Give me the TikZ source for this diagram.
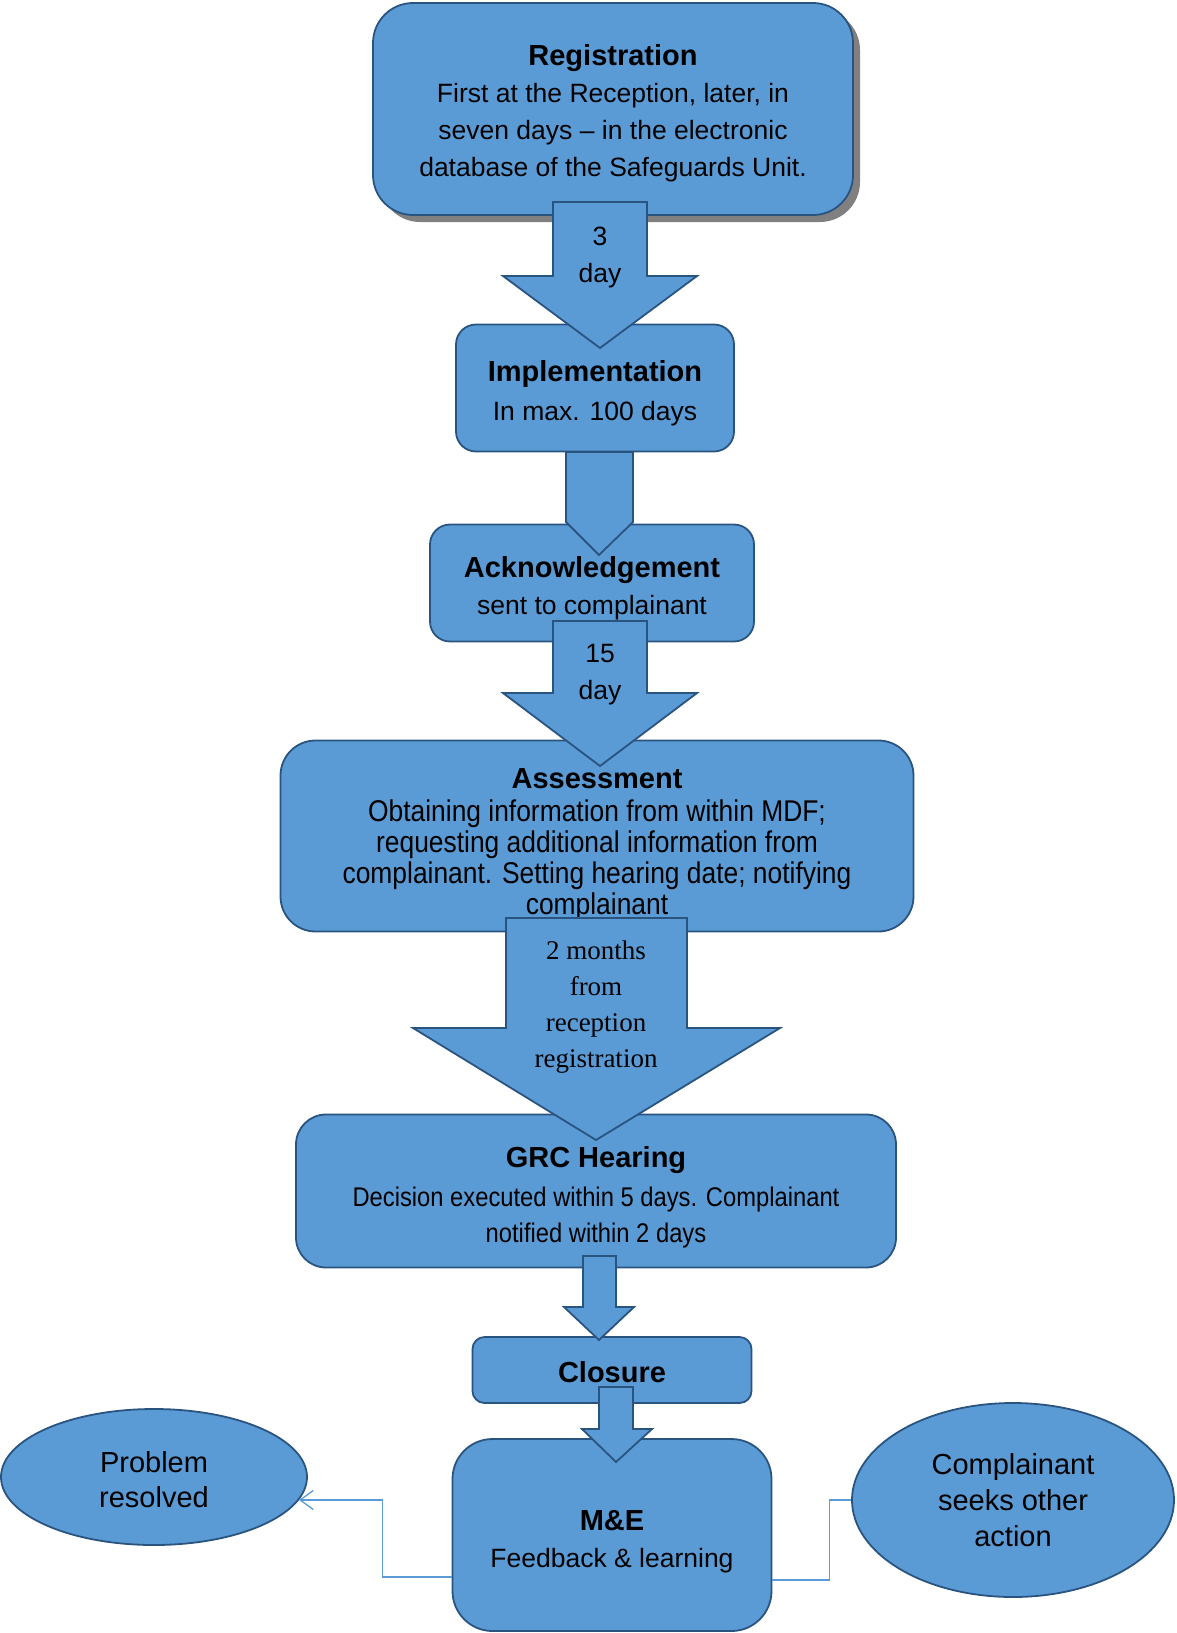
\documentclass[tikz,border=0pt]{standalone}
\usepackage{fontspec}
\setsansfont{Liberation Sans}
\newfontfamily\condsans[FakeStretch=0.88]{Liberation Sans}
\newfontfamily\arrowserif{Liberation Serif}
\usepackage{tikz}
\usetikzlibrary{arrows.meta, shapes.geometric, shadows}
\definecolor{boxblue}{RGB}{91,155,213}
\definecolor{boxline}{RGB}{42,84,128}

\begin{document}
\begin{tikzpicture}[x=1pt, y=-1pt,
		every node/.style={align=center, inner sep=0pt, font=\sffamily\fontsize{26.5}{37}\selectfont},
		stage/.style={draw=boxline, fill=boxblue, line width=1.8pt, rounded corners=#1},
		stage/.default=20pt,
		outcome/.style={draw=boxline, fill=boxblue, line width=1.8pt, ellipse},
		blockarrow/.style={draw=boxline, fill=boxblue, line width=1.8pt},
		link/.style={draw=boxblue, line width=1.3pt},
		title/.style={font=\sffamily\bfseries\fontsize{29}{37}\selectfont}
	]

	\useasboundingbox (0,0) rectangle (1176,1633);

	% Stages of the procedure
	\node[stage=40pt, minimum width=480pt, minimum height=212pt,
		drop shadow={shadow xshift=7pt, shadow yshift=-7pt, fill=black!50, opacity=1}] (reg) at (613,109) {};
	\node (regtxt) at ([yshift=-4pt]reg.center)
		{{\bfseries\fontsize{29}{37}\selectfont Registration}\\First at the Reception, later, in\\seven days – in the electronic\\database of the Safeguards Unit.};
	\node[stage, minimum width=278pt, minimum height=127pt] (impl) at (595,388) {};
	\node (impltxt) at ([yshift=-5pt]impl.center)
		{{\bfseries\fontsize{29}{39}\selectfont Implementation}\\[2pt]In max. 100 days};
	\node[stage, minimum width=324pt, minimum height=117pt] (ack) at (592,583) {};
	\node (acktxt) at ([yshift=-5pt]ack.center)
		{{\bfseries\fontsize{29}{37}\selectfont Acknowledgement}\\sent to complainant};
	\node[stage=35pt, minimum width=633pt, minimum height=191pt] (assess) at (597,836) {};
	\node[font=\condsans\fontsize{30}{31}\selectfont] (assesstxt) at ([yshift=-9pt]assess.center)
		{{\sffamily\bfseries\fontsize{29}{31}\selectfont Assessment}\\[2pt]Obtaining information from within MDF;\\requesting additional information from\\complainant. Setting hearing date; notifying\\complainant};
	\node[stage=30pt, minimum width=600pt, minimum height=153pt] (grc) at (596,1191) {};
	\node[font=\condsans\fontsize{27}{36}\selectfont] (grctxt) at ([yshift=-6pt]grc.center)
		{{\sffamily\bfseries\fontsize{29}{36}\selectfont GRC Hearing}\\[3pt]Decision executed within 5 days. Complainant\\notified within 2 days};
	\node[stage=12pt, minimum width=279pt, minimum height=66pt] (close) at (612,1370) {};
	\node[title] (closetxt) at ([yshift=-2pt]close.center) {Closure};
	\node[stage=40pt, minimum width=319pt, minimum height=192pt] (me) at (612,1535) {};
	\node (metxt) at ([yshift=-7pt]me.center)
		{{\bfseries\fontsize{29}{37}\selectfont M\&E}\\Feedback \& learning};

	% Outcomes
	\node[outcome, minimum width=306pt, minimum height=136pt] (resolved) at (154,1477) {};
	\node[font=\sffamily\fontsize{29}{35}\selectfont] (resolvedtxt) at ([yshift=-3pt]resolved.center) {Problem\\resolved};
	\node[outcome, minimum width=322pt, minimum height=194pt, font=\sffamily\fontsize{29}{36}\selectfont] (action) at (1013,1500)
		{Complainant\\seeks other\\action};

	% Block arrows with the time limits
	\draw[blockarrow] (553,202) -- (647,202) -- (647,276) -- (697,276) -- (600,348) -- (503,276) -- (553,276) -- cycle;
	\node (d3) at (600,257) {3\\day};
	\draw[blockarrow] (566,452) -- (633,452) -- (633,522) -- (599,555) -- (566,522) -- cycle;
	\draw[blockarrow] (553,621) -- (647,621) -- (647,693) -- (697,693) -- (600,766) -- (503,693) -- (553,693) -- cycle;
	\node (d15) at (600,675) {15\\day};
	\draw[blockarrow] (506,918) -- (687,918) -- (687,1028) -- (780,1028) -- (596,1140) -- (413,1028) -- (506,1028) -- cycle;
	\node[font=\arrowserif\fontsize{27}{36}\selectfont] (d2m) at (596,1007) {2 months\\from\\reception\\registration};
	\draw[blockarrow] (583,1256) -- (616,1256) -- (616,1307) -- (634,1307) -- (599,1340) -- (564,1307) -- (583,1307) -- cycle;
	\draw[blockarrow] (599,1387) -- (633,1387) -- (633,1429) -- (652,1429) -- (616,1462) -- (582,1429) -- (599,1429) -- cycle;

	% Links to the outcomes
	\draw[link, -{Straight Barb[length=13pt, width=19pt]}] ([yshift=-42pt]me.west) -- ++(-69,0) |- (resolved.-9);
	\draw[link] ([yshift=-45pt]me.east) -- ++(57,0) |- (action.west);

\end{tikzpicture}
\end{document}
